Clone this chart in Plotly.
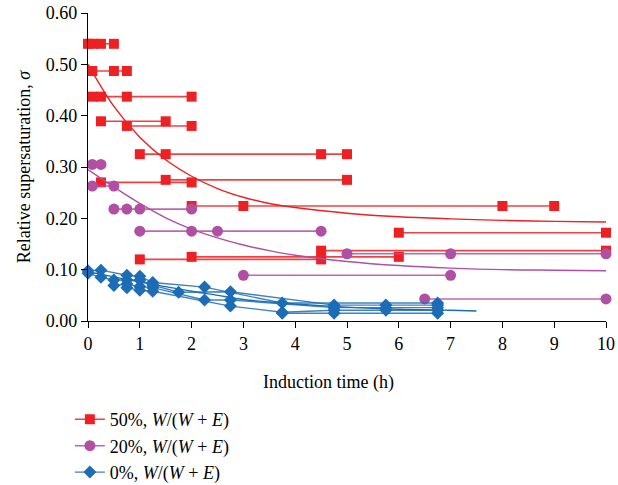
import plotly.graph_objects as go

# ---- data ----
RED_Y = [0.540, 0.487, 0.437, 0.389, 0.380, 0.325, 0.275, 0.270, 0.224, 0.172, 0.137, 0.125, 0.120]
RED_X = [[0, 0.1, 0.25, 0.5], [0.083, 0.5, 0.75], [0.083, 0.25, 0.75, 2.0], [0.25, 1.5],
         [0.75, 2.0], [1.0, 1.5, 4.5, 5.0], [1.5, 5.0], [0.25, 2.0], [2.0, 3.0, 8.0, 9.0],
         [6.0, 10.0], [4.5, 10.0], [2.0, 6.0], [1.0, 4.5]]

PUR_Y = [0.305, 0.263, 0.218, 0.175, 0.131, 0.089, 0.043]
PUR_X = [[0.083, 0.25], [0.083, 0.5], [0.5, 0.75, 1.0, 2.0], [1.0, 2.0, 2.5, 4.5],
         [5.0, 7.0, 10.0], [3.0, 7.0], [6.5, 10.0]]

BLUE_X = [[0, 0.25, 0.75, 1.0, 1.25, 2.25, 3.75, 6.75],
          [0, 0.25, 0.5, 0.75, 1.0, 1.25, 1.75, 2.75, 4.75, 5.75, 6.75],
          [0.5, 0.75, 1.0, 1.25, 2.25, 2.75, 4.75, 5.75, 6.75],
          [0.75, 1.0, 1.25, 2.75, 3.75, 4.75, 5.75, 6.75],
          [3.75, 4.75, 6.75]]
BLUE_Y = [[0.098, 0.099, 0.089, 0.087, 0.075, 0.066, 0.035, 0.035],
          [0.093, 0.085, 0.080, 0.080, 0.080, 0.070, 0.056, 0.057, 0.031, 0.031, 0.031],
          [0.069, 0.072, 0.067, 0.065, 0.041, 0.041, 0.026, 0.026, 0.026],
          [0.065, 0.060, 0.058, 0.029, 0.017, 0.021, 0.021, 0.021],
          [0.015, 0.015, 0.015]]

RED_FIT_X = [0, 0.5, 1, 1.5, 2, 2.5, 3, 3.5, 4, 5, 6, 7, 8, 9, 10]
RED_FIT_Y = [0.500, 0.418, 0.358, 0.314, 0.282, 0.258, 0.241, 0.229, 0.221, 0.210, 0.203, 0.199, 0.196, 0.194, 0.193]
PUR_FIT_X = [0, 0.5, 1, 1.5, 2, 2.5, 3, 3.5, 4, 5, 6, 7, 8, 9, 10]
PUR_FIT_Y = [0.295, 0.261, 0.229, 0.201, 0.179, 0.162, 0.148, 0.137, 0.128, 0.116, 0.108, 0.103, 0.100, 0.099, 0.098]
BLUE_FIT_X = [0, 0.5, 1, 1.5, 2, 2.5, 3, 3.5, 4, 5, 6, 7, 7.5]
BLUE_FIT_Y = [0.096, 0.086, 0.076, 0.067, 0.058, 0.050, 0.042, 0.037, 0.033, 0.027, 0.023, 0.021, 0.0195]

X_TICKS = list(range(0, 11))
Y_TICKS = [0.0, 0.1, 0.2, 0.3, 0.4, 0.5, 0.6]

NAMES = ["50%, <i>W</i>/(<i>W</i> + <i>E</i>)",
         "20%, <i>W</i>/(<i>W</i> + <i>E</i>)",
         "0%, <i>W</i>/(<i>W</i> + <i>E</i>)"]

RED = "#ED2024"
PUR = "#B14FA3"
BLU = "#1C6DB5"
RED_LINE = "rgba(237,32,36,0.85)"
PUR_LINE = "rgba(177,79,163,0.85)"
BLU_LINE = "rgba(28,109,181,0.85)"
FONT = "Liberation Serif"

fig = go.Figure()

def add_rows(xs_list, ys_list, color, lcolor, symbol, size, name, group, lw):
    for i, (xs, ys) in enumerate(zip(xs_list, ys_list)):
        fig.add_trace(go.Scatter(
            x=xs, y=ys, mode="lines+markers", name=name, legendgroup=group,
            showlegend=(i == 0), cliponaxis=False,
            line=dict(color=lcolor, width=lw),
            marker=dict(symbol=symbol, size=size, color=color, line=dict(width=0)),
        ))

add_rows(RED_X, [[y] * len(x) for x, y in zip(RED_X, RED_Y)], RED, RED_LINE, "square", 10, NAMES[0], "r", 1.6)
add_rows(PUR_X, [[y] * len(x) for x, y in zip(PUR_X, PUR_Y)], PUR, PUR_LINE, "circle", 11, NAMES[1], "p", 1.6)
add_rows(BLUE_X, BLUE_Y, BLU, BLU_LINE, "diamond", 10, NAMES[2], "b", 1.4)

for fx, fy, c in [(RED_FIT_X, RED_FIT_Y, RED), (PUR_FIT_X, PUR_FIT_Y, PUR), (BLUE_FIT_X, BLUE_FIT_Y, BLU)]:
    fig.add_trace(go.Scatter(x=fx, y=fy, mode="lines", showlegend=False,
                             line=dict(color=c, width=1.4, shape="spline", smoothing=1.0),
                             hoverinfo="skip"))

axis_common = dict(showline=True, linecolor="black", linewidth=1.3, ticks="outside",
                   ticklen=6, tickwidth=1.3, tickcolor="black", showgrid=False, zeroline=False,
                   automargin=False,
                   tickfont=dict(family=FONT, size=18, color="black"))

fig.update_layout(
    width=618, height=485,
    margin=dict(l=88, r=12, t=13, b=164, autoexpand=False),
    plot_bgcolor="white", paper_bgcolor="white",
    font=dict(family=FONT, size=18, color="black"),
    xaxis=dict(range=[0, 10], tickvals=X_TICKS, ticktext=[str(t) for t in X_TICKS],
               **axis_common),
    yaxis=dict(range=[0, 0.6], tickvals=Y_TICKS, ticktext=[f"{t:.2f}" for t in Y_TICKS],
               title=dict(text="Relative supersaturation, <i>σ</i>", font=dict(family=FONT, size=18), standoff=10),
               **axis_common),
    annotations=[dict(text="Induction time (h)", xref="paper", yref="paper",
                      x=0.465, y=-0.2, xanchor="center", yanchor="middle",
                      showarrow=False, font=dict(family=FONT, size=18))],
    legend=dict(x=-0.035, y=-0.26, xanchor="left", yanchor="top", orientation="v",
                font=dict(family=FONT, size=18), bgcolor="rgba(0,0,0,0)",
                tracegroupgap=0, itemwidth=30),
    showlegend=True,
)

fig.write_html("out.html")
